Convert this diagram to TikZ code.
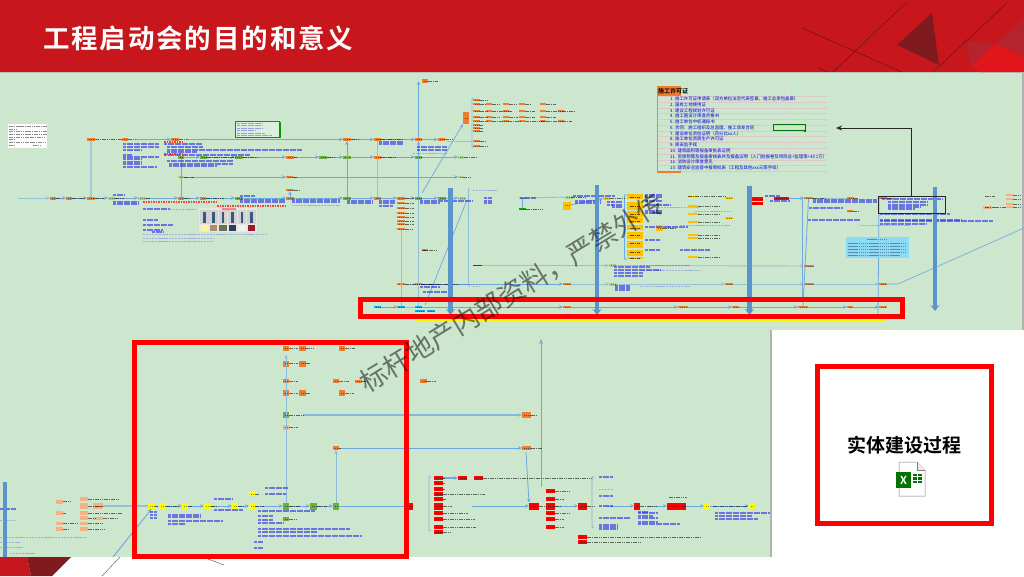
\documentclass[tikz,border=0pt]{standalone}
\usepackage{fontspec}
\usetikzlibrary{arrows.meta,decorations.pathreplacing}
\setmainfont{Noto Sans CJK SC}
\newfontfamily\cjk{Noto Sans CJK SC}
\newfontfamily\cjktitle[LetterSpace=7]{Noto Sans CJK SC Bold}
\newfontfamily\cjkbold{Noto Sans CJK SC Bold}
\definecolor{hdr}{HTML}{C8161D}
\definecolor{hdrdark}{HTML}{7F1A1E}
\definecolor{hdrmid}{HTML}{B5232E}
\definecolor{hdrbright}{HTML}{E0161A}
\definecolor{paper}{HTML}{CDE7CF}
\definecolor{org}{HTML}{ED7D31}
\definecolor{sal}{HTML}{F4B183}
\definecolor{grn}{HTML}{70AD47}
\definecolor{lgr}{HTML}{A9D18E}
\definecolor{yel}{HTML}{FFFF00}
\definecolor{amb}{HTML}{FFC000}
\definecolor{cya}{HTML}{00B0F0}
\definecolor{lnk}{HTML}{6FA8DC}
\definecolor{barblue}{HTML}{5B93CC}
\definecolor{txtblue}{HTML}{2A2AF0}
\tikzset{
  tagbox/.style={rectangle,inner sep=0pt,outer sep=0pt,draw=none},
  conn/.style={draw=lnk,line width=0.8pt,-{Stealth[length=4pt,width=3.5pt]}},
  pale/.style={draw=lnk!60!paper,line width=0.9pt},
  paleconn/.style={pale,-{Stealth[length=4pt,width=3.5pt]}},
  bluetext/.style={draw=txtblue,line width=1.15pt,opacity=.6,dash pattern=on 3pt off .5pt},
  faint/.style={draw=txtblue,line width=.8pt,opacity=.28,dash pattern=on 2.2pt off .7pt},
  darktext/.style={draw=black,line width=1pt,opacity=.55,dash pattern=on 1.6pt off .7pt},
  redtext/.style={draw=red,line width=1.1pt,opacity=.7,dash pattern=on 1.6pt off .9pt},
  bigbar/.style={draw=barblue,line width=4.6pt,-{Stealth[length=6pt,width=9pt]}},
  redframe/.style={draw=red,line width=4.8pt},
  listline/.style={inner sep=0pt,anchor=west,text=blue!85!black,font=\cjk\fontsize{4.4}{6}\selectfont},
}
\newcommand{\tg}[6]{\node[tagbox,fill=#6,minimum width=(#3-#2)*1pt,minimum height=#5 pt] (#1) at ({(#2+#3)/2},#4) {};\draw[draw=black,line width=.8pt,opacity=.45,dash pattern=on 1.4pt off .7pt] ({#2+1.5},#4) -- ({#3-1},#4);}
\begin{document}
\begin{tikzpicture}[x=1pt,y=-1pt]
\useasboundingbox (0,0) rectangle (1024,576);
\fill[white] (0,0) rectangle (1024,576);
% ---- panels
\fill[paper] (0,72) rectangle (1024,330);
\fill[paper] (0,330) rectangle (771,557);
\fill[gray!60] (770,330) rectangle (771.5,557);
\fill[gray!60] (1022,72) rectangle (1024,330);
% ---- header
\fill[hdr] (0,0) rectangle (1024,72);
\fill[gray!50] (0,72) rectangle (1024,72.8);
\fill[hdrdark] (932,13) -- (897,45) -- (939,65) -- cycle;
\fill[hdrmid] (967,42) -- (995,43) -- (970,67) -- cycle;
\fill[hdrmid] (995,43) -- (1024,20) -- (1024,57) -- cycle;
\fill[hdrbright] (995,44) -- (1024,57) -- (1024,72) -- (980,72) -- (970,67) -- cycle;
\draw[hdrdark!80!black,line width=.5pt] (802,28) -- (902,72) (907,2) -- (833,72) (1007,3) -- (933,72) (818,68) -- (828,72);
\node[anchor=west,inner sep=0pt,text=white,font=\cjktitle\fontsize{26.5}{30}\selectfont] (title) at (43,38) {工程启动会的目的和意义};
% bottom-left decoration
\fill[hdr] (0,557) -- (27,557) -- (31,576) -- (0,576) -- cycle;
\fill[hdrdark] (27,557) -- (71,557) -- (52,576) -- (31,576) -- cycle;
\draw[black!70,line width=.4pt] (120,557) -- (102,576) (208,559) -- (224,565);
% ---- top block tags
\tg{a1}{87}{95}{139.5}{3}{org}\tg{a2}{122}{128}{139.5}{3}{org}\tg{a3}{171}{179}{139.5}{3}{org}
\tg{a4}{343}{351}{139.5}{3}{org}\tg{a5}{374}{381}{139.5}{3}{org}\tg{a6}{415}{422}{139.5}{3}{org}\tg{a7}{438}{445}{139.5}{3}{org}
\tg{b1}{178}{184}{157}{3}{grn}\tg{b2}{200}{207}{157}{3}{grn}\tg{b3}{235}{243}{157}{3}{grn}\tg{b4}{286}{294}{157}{3}{org}\tg{b5}{319}{327}{157}{3}{grn}
\tg{b6}{343}{351}{157}{3}{grn}\tg{b7}{374}{381}{157}{3}{org}\tg{b8}{415}{422}{157}{3}{grn}\tg{b9}{458}{464}{157}{3}{lgr}
\tg{c1}{178}{184}{177}{2}{lgr}\tg{c2}{286}{293}{177}{2}{org}\tg{c3}{458}{463}{177}{2}{lgr}
\tg{d0}{50}{56}{198}{3}{org}\tg{d1}{66}{72}{198}{3}{org}\tg{d2}{87}{95}{198}{3}{org}\tg{d3}{108}{115}{198}{3}{lgr}\tg{d4}{138}{147}{198}{3}{lgr}
\tg{d5}{178}{184}{198}{3}{org}\tg{d6}{200}{206}{198}{3}{org}\tg{d7}{235}{243}{198}{3}{grn}\tg{d8}{286}{294}{198}{3}{org}\tg{d8u}{286}{294}{190}{2.4}{org}
\tg{d9}{343}{351}{198}{3}{grn}\tg{d10}{374}{381}{198}{3}{org}\tg{d11}{397}{405}{198}{3}{org}\tg{d12}{415}{422}{198}{3}{grn}\tg{d13}{438}{446}{198}{3}{grn}\tg{d14}{458}{466}{198}{3}{lgr}
\tg{s1}{397}{405}{203}{2.4}{org}\tg{s2}{397}{405}{208}{2.4}{org}\tg{s3}{397}{405}{213}{2.4}{org}\tg{s4}{397}{405}{217}{2.4}{org}\tg{s5}{397}{405}{221}{2.4}{org}\tg{s6}{397}{405}{224}{2.4}{org}\tg{s7}{397}{405}{229}{2.4}{org}
\tg{q1}{422}{428}{81}{3.5}{org}\tg{q2}{422}{428}{250}{1.5}{org}
% tree at top right
\tg{tree}{463}{469}{118}{12}{org}
\foreach \n/\y in {k1/100,k2/104,k3/111,k4/117,k5/121,k6/125,k7/128,k8/131,k9/141,k10/146}{\tg{\n}{473}{480}{\y}{2.4}{org}}
\foreach \cola/\colb in {486/492,503/509,519/525,540/546}{\foreach \y in {104,111,117,121}{\fill[org] (\cola,\y-1.2) rectangle (\colb,\y+1.2);}}
\fill[org] (558,109.8) rectangle (564,112.2) (558,119.8) rectangle (564,122.2);
% row E, F, G
\tg{e1}{397}{405}{284}{2.4}{org}\tg{e2}{415}{422}{284}{2.4}{org}\tg{e3}{563}{571}{284}{2.4}{org}\tg{e4}{609}{617}{284}{3}{lgr}\tg{e5}{725}{733}{284}{2}{org}\tg{e6}{804}{814}{284}{2}{org}\tg{e7}{879}{887}{284}{2}{org}
\node[tagbox,fill=txtblue,minimum width=9pt,minimum height=1pt] (f0) at (477.5,265.5) {};
\tg{f1}{609}{616}{265.5}{3}{lgr}\tg{f2}{804}{814}{266}{2}{org}
\tg{g1}{374}{381}{307}{2.4}{cya}\tg{g2}{397}{405}{307}{2.4}{cya}\tg{g3}{415}{422}{307}{2.4}{cya}\tg{g4}{415}{425}{311}{2}{cya}\tg{g5}{427}{435}{311}{2}{cya}
\tg{g6}{563}{571}{307}{2}{org}\tg{g7}{678}{688}{307}{1.6}{org}\tg{g8}{732}{739}{307}{1.6}{org}\tg{g9}{798}{808}{307}{1.6}{org}\tg{g10}{847}{853}{307}{1.6}{org}\tg{g11}{879}{887}{307}{1.6}{org}
\fill[yel] (416,319) rectangle (886,321.2);
% mid tags
\tg{m1}{563}{571}{205.5}{8}{amb}\tg{m2}{565}{573}{197}{3}{lgr}\tg{m3}{519}{526}{209}{2.5}{green!70!black}\tg{m4}{519}{526}{198}{2.5}{lgr}\tg{m5}{603}{610}{198}{3}{amb}
\foreach \n/\ya/\yb in {u1/194/199,u2/202/210,u3/211/217,u4/218/223,u5/225/230,u6/232/239,u7/241/248,u8/250/256,u9/257/259}{\fill[amb] (627,\ya) rectangle (643,\yb);}
\tg{m6}{656}{663}{228}{6}{amb}
\foreach \y in {197,206,214,221,228,235,243,252,258}{\draw[darktext,opacity=.6] (630,\y) -- (640,\y);}
\draw[lnk,line width=.9pt] (626,194) .. controls (624,194) and (624.5,196) .. (624.5,199) -- (624.5,255) .. controls (624.5,258) and (624,260) .. (626,260);
\tg{n1}{725}{733}{198}{2.4}{amb}\tg{n2}{725}{733}{218}{2.4}{amb}
\foreach \y in {196.5,206,214,222,235,238,257}{\fill[amb] (688,\y-.8) rectangle (698,\y+.8);}
\tg{v1}{752}{763}{199}{4}{red}\tg{v2}{752}{763}{203.5}{2.4}{red}\tg{v3}{774}{789}{198}{3}{red}
\tg{w1}{804}{813}{198}{2.4}{org}\tg{w2}{847}{854}{198}{2.4}{org}\tg{w3}{847}{853}{211}{2.4}{org}\tg{w4}{879}{887}{198}{2.4}{org}
\foreach \y in {195,199,204,207}{\fill[sal] (1006,\y-1.4) rectangle (1013,\y+1.4);}
\fill[sal] (983,205.5) rectangle (992,208.5);
% ---- bottom block tags
\foreach \x/\xb/\y/\h in {56/63/501.7/4,80/88/499/3.4,80/88/506/6,93/103/506/6,56/63/513/3.4,80/88/513/3.4,80/88/518/3.4,93/103/518/3,56/63/523.7/3.4,80/88/523.7/3.4,56/63/529/3.4,80/88/529/3.4}{\fill[sal] (\x,\y-\h/2) rectangle (\xb,\y+\h/2);}
\tg{src}{93}{103}{506}{6}{sal}
\tg{y1}{148}{155}{506}{6}{yel}\tg{y2}{159}{166}{506}{6}{yel}\tg{y3}{182}{188}{506}{6}{yel}\tg{y4}{204}{211}{506}{6}{yel}\tg{y5}{232}{238}{506}{6}{yel}\tg{y6}{249}{255}{506}{6}{yel}\tg{y7}{249}{255}{494}{4.5}{yel}
\tg{h1}{283}{289}{506}{7}{grn}\tg{h2}{310}{317}{506}{7}{grn}\tg{h3}{333}{339}{506}{7}{grn}\tg{r1}{408}{413}{506}{7}{red}\tg{h4}{283}{289}{519}{4}{grn}
\tg{o1}{283}{289}{348}{5}{org}\tg{o2}{283}{289}{363.5}{6}{org}\tg{o3}{283}{289}{381}{4}{org}\tg{o4}{283}{289}{393}{6}{org}\tg{hg}{283}{289}{415}{6}{grn}\tg{o6}{283}{289}{427.5}{5}{sal}
\tg{p1}{299}{306}{348}{5}{org}\tg{p2}{299}{306}{363.5}{6}{org}\tg{p3}{299}{306}{393}{6}{org}
\tg{p4}{339}{345}{348}{5}{org}\tg{p5}{333}{339}{381}{4}{org}\tg{p6}{355}{362}{381}{3}{org}\tg{p7}{339}{345}{393}{6}{org}
\tg{o9}{333}{339}{448}{4.5}{org}\tg{tgta}{522}{531}{415}{6}{org}\tg{tgtb}{522}{531}{448}{4.5}{org}\tg{o10}{420}{427}{381}{3.5}{org}
\foreach \n/\y in {x1/478,x2/483,x3/489,x4/494,x5/499,x7/513,x8/519,x9/527,x10/532}{\tg{\n}{434}{443}{\y}{4}{red}}
\tg{x6}{434}{443}{506}{7}{red}
\tg{z1}{458}{467}{478}{4}{red}\tg{z2}{474}{483}{478}{4}{red}
\tg{ra}{529}{539}{506}{7}{red}\tg{rb}{546}{555}{506}{7}{red}
\foreach \n/\y in {ry1/491,ry2/499,ry3/513,ry4/519,ry5/527}{\tg{\n}{546}{555}{\y}{4}{red}}
\tg{rc}{578}{587}{506}{7}{red}\tg{rd}{634}{640}{506}{7}{red}\tg{re}{667}{686}{506}{7}{red}
\tg{rf}{578}{587}{537}{4.5}{red}\tg{rg}{578}{587}{542}{4.5}{red}
\tg{y8}{704}{710}{506}{6}{yel}\tg{y9}{749}{755}{506}{6}{yel}
% ---- connectors: top
\coordinate (a1x) at (136,139.5);\coordinate (a3x) at (188,139.5);
\draw[conn] (a1x) -- (a3);\draw[conn] (a3x) -- (a4);\draw[conn] (a4) -- (a5);\draw[conn] (a5) -- (a6);\draw[conn] (a6) -- (a7);
\foreach \p/\q in {b1/b2,b2/b3,b3/b4,b4/b5,b5/b6,b6/b7,b7/b8,b8/b9,c1/c2,c2/c3,d0/d1,d1/d2,d2/d3,d3/d4,d4/d5,d5/d6,d6/d7,d7/d8,d8/d9,d9/d10,d10/d11,d11/d12,d12/d13,d13/d14}{\draw[conn] (\p) -- (\q);}
\coordinate (dl) at (18,198);\draw[paleconn] (dl) -- (d0);
\draw[pale,line width=1.5pt,lnk!45!paper] (d2.north) -- (a1.south);
\draw[draw=lnk,line width=.9pt] (d5.north) -- (b1.south);
\draw[conn] (d8) -- (d8u);
\draw[conn] (d9.north) -- (a4.south);
\draw[pale] (d10.north) -- (a5.south);
\draw[conn] (d12.north) -- (a6.south);
\coordinate (qa) at (418.5,81);\draw[conn] (a6.north) -- (qa);
\draw[pale] (s7.south) -- (g2.north);
\draw[pale] (d12.south) -- (g3.north);
\coordinate (dg1) at (422,193);\draw[draw=lnk,line width=.7pt,-{Stealth[length=4pt,width=3pt]}] (dg1) -- (tree.south west);
\coordinate (dg2) at (425,305);\coordinate (dg3) at (467,200);\draw[draw=lnk,line width=.7pt] (dg2) -- (dg3);
\draw[lnk!70!paper,line width=.9pt] (473,98) .. controls (471.5,98) and (472,100) .. (472,102) -- (472,144) .. controls (472,146) and (471.5,148) .. (473,148);
\coordinate (tr0) at (447,141.5);\coordinate (tr1) at (472,141.5);\draw[pale] (tr0) -- (tr1);
\draw[draw=lnk!70!paper,line width=.9pt] (469.5,188) .. controls (468,188) and (468.5,190) .. (468.5,192) -- (468.5,280) .. controls (468.5,283) and (468,286) .. (470,287);
% rows E/F/G
\draw[pale] (e1) -- (e2);\draw[conn] (e2) -- (e3);\draw[paleconn] (e3) -- (e4);\draw[paleconn] (e4) -- (e5);\draw[paleconn] (e5) -- (e6);\draw[paleconn] (e6) -- (e7);
\coordinate (eout) at (1024,228);\coordinate (eo2) at (898,284);\draw[draw=lnk,line width=.6pt] (e7) -- (eo2) -- (eout);
\draw[paleconn] (f0) -- (f1);\draw[paleconn] (f1) -- (f2);
\draw[draw=org,line width=.8pt,-{Stealth[length=3pt,width=3pt]}] (g1) -- (g2);
\draw[pale] (g2) -- (g3);
\foreach \p/\q in {g3/g6,g6/g7,g7/g8,g8/g9,g9/g10,g10/g11}{\draw[conn] (\p) -- (\q);}
\draw[draw=lnk,line width=.8pt] (w1.south) -- (g9.north);
\draw[draw=lnk,line width=.8pt] (w4.west) -- (878,315);
\draw[pale] (m2) -- (m4);
\draw[draw=lnk,line width=.8pt] (m4.south) -- (m3.north);
\draw[conn] (m1) -- (m5);
\draw[pale] (w1) -- (w2);
\draw[conn] (v3) -- (w1);
\coordinate (bigend) at (836,128);
% ---- connectors: bottom
\draw[pale,line width=1.2pt] (src) -- (y1);
\foreach \p/\q in {y2/y3,y3/y4,y4/y5,y5/y6,y6/h1,h1/h2,h2/h3,h3/r1,rb/rc,y8/y9}{\draw[conn] (\p) -- (\q);}
\draw[pale] (y1) -- (y2);
\draw[draw=lnk!70!paper,line width=1pt,-{Stealth[length=4pt,width=3.5pt]}] (h1.north) -- (286,355);
\draw[draw=lnk!70!paper,line width=1pt,-{Stealth[length=4pt,width=3.5pt]}] (h3.north) -- (o9.south);
\coordinate (hgx) at (303,415);\draw[draw=lnk!75!paper,line width=1.4pt,-{Stealth[length=4pt,width=3.5pt]}] (hgx) -- (tgta);
\draw[conn] (o9) -- (tgtb);
\coordinate (dgb) at (526,452);\draw[conn] (dgb) -- (ra.north west);
\coordinate (vtop) at (541,339);\coordinate (vbot) at (541,487);\draw[draw=lnk,line width=.9pt,-{Stealth[length=5pt,width=4pt]}] (vbot) -- (vtop);
\coordinate (dgc) at (113,557);\draw[draw=lnk,line width=.9pt,-{Stealth[length=4pt,width=4pt]}] (dgc) -- (y1.south);
\draw[draw=lnk!80!paper,line width=.9pt] (430.5,476) .. controls (428.5,476) and (429,478) .. (429,480) -- (429,527) .. controls (429,530) and (428.5,531) .. (430.5,531);
\draw[draw=lnk!80!paper,line width=.9pt] (593.5,476) .. controls (592,476) and (592,478) .. (592,481) -- (592,524) .. controls (592,526) and (592,528) .. (593.5,528);
\draw[conn,line width=1.2pt] (x1) -- (z1);
\coordinate (xout) at (472,506);\draw[conn] (xout) -- (ra);
\coordinate (rcout) at (607,506);\draw[conn] (rcout) -- (rd);
\coordinate (rdout) at (648,506);\draw[conn] (rdout) -- (re);\draw[conn] (re) -- (y8);
% ---- micro text as streaks
\foreach \a/\b/\y in {123/159/144,123/159/147,123/142/150,123/132/155,123/159/157,123/141/159,123/141/162,123/141/164,123/157/167,164/202/144,167/203/147,167/302/150,167/197/152,164/250/155,167/233/161,169/233/164,169/217/166,113/124/195,113/138/202,113/138/204,143/170/209,143/158/220,143/173/225,143/163/230,152/163/232,240/255/196,240/285/200,240/285/202,292/340/200,292/340/202,347/373/201,347/373/203,379/403/142,379/403/144,379/395/201,379/395/203,379/393/206,417/447/147,417/447/150,420/440/201,420/440/203,440/473/201,484/492/198,484/492/201,484/492/203,607/613/202,607/613/205,420/440/287,423/450/292,614/650/267,614/660/270,614/643/273,614/643/276,615/630/286,615/630/288,615/630/290,813/877/200,813/877/202,809/843/208,808/860/220,882/943/199,888/927/202,888/927/205,888/920/207,888/915/209,880/950/214,880/962/220,880/993/221,880/927/224,645/662/195,645/662/197,645/662/201,645/670/205,645/662/211,645/662/213,645/670/227,668/688/227,645/660/240,645/660/250,680/710/250,765/780/196,770/790/201,520/536/198,573/615/196,575/600/201,575/600/203,612/622/202,612/622/205,612/622/207,0/16/509,150/157/512,150/157/515,150/157/518,168/200/515,168/200/517,168/223/521,168/185/524,214/232/499,214/243/510,265/288/488,265/286/494,258/315/511,258/273/516,258/273/520,258/283/523,258/350/529,258/317/532,258/362/536,254/263/542,254/263/548,599/613/477,599/613/496,599/613/506,599/630/518,599/618/525,599/618/527,599/618/529,638/648/512,638/658/513,638/653/516,638/658/518,638/658/522,638/680/524,715/770/513,715/752/516,715/758/519}{\draw[bluetext] (\a,\y) -- (\b,\y);}
\foreach \a/\b/\y in {143/267/234,143/213/238,143/213/241,170/197/209,292/340/205,413/447/153,473/497/190,473/480/286,428/470/284,640/690/286,655/700/207,695/730/211,680/730/225,640/690/265,640/700/270,860/910/225,599/613/489,0/15/520,0/87/537,0/20/542,0/23/547,10/35/553}{\draw[faint] (\a,\y) -- (\b,\y);}
\foreach \a/\b/\y in {95/122/139.5,128/136/139.5,179/188/139.5,351/358/139.5,381/403/139.5,445/452/139.5,207/235/157,243/258/157,294/297/157,327/335/157,381/395/157,464/476/157,184/194/177,293/297/177,463/470/177,56/60/198,72/85/198,95/104/198,115/124/198,147/150/198,184/190/198,206/224/198,294/300/190,405/414/198,405/414/203,405/414/208,405/414/213,405/414/217,405/414/221,405/414/224,405/413/229,428/438/81,422/436/250,405/458/284,422/440/284,480/488/100,480/485/104,480/488/111,480/488/117,480/488/121,492/500/104,509/517/104,525/530/104,546/556/104,492/512/111,525/535/111,546/575/111,492/500/117,509/518/117,525/535/117,546/556/117,492/520/121,525/545/121,546/572/121,480/483/125,480/483/128,480/483/131,480/485/141,480/487/146,526/543/209,663/676/228,571/585/197,610/625/198,688/725/196.5,698/720/206,698/720/214,698/720/222,698/720/235,698/720/238,698/720/257,985/995/196,985/995/207,995/1006/207,1013/1020/195,1013/1020/199,1013/1020/204,1013/1020/207,854/858/198,853/858/211,887/893/198,813/826/198,63/70/501.7,88/118/499,88/103/506,63/66/513,88/122/513,103/118/518,88/95/518,63/78/523.7,88/103/523.7,63/68/529,88/105/529,155/158/506,166/178/506,188/192/506,211/216/506,238/243/506,255/264/506,255/259/494,289/300/506,317/327/506,289/297/519,289/298/348,306/313/348,345/355/348,289/298/363.5,306/310/363.5,289/298/381,339/349/381,362/367/381,289/298/393,306/310/393,345/354/393,289/303/415,289/298/427.5,339/341/448,427/436/381,531/537/415,531/542/448,443/445/478,443/445/483,443/445/489,443/485/494,443/446/499,443/452/506,443/468/513,443/475/519,443/476/527,443/450/532,483/592/478,555/571/491,555/564/499,555/571/513,555/564/519,555/564/527,555/560/506,539/546/506,587/594/506,587/700/537,587/640/542,640/657/506,669/687/497,713/747/506}{\draw[darktext] (\a,\y) -- (\b,\y);}
\foreach \a/\b/\y in {164/184/142,164/184/154,143/217/202,217/285/206}{\draw[redtext] (\a,\y) -- (\b,\y);}
% white box
\fill[white,opacity=.95] (8,124) rectangle (47,148);
\foreach \a/\b/\y in {9/20/126,20/47/126,9/17/129,9/27/131,27/47/131,9/27/134,27/47/134,9/30/137,30/46/137,9/14/139,9/31/142,31/46/142,9/14/145,33/40/145}{\draw[darktext,opacity=.45,line width=1pt] (\a,\y) -- (\b,\y);}
% green note box
\fill[paper!70!white] (235.5,121.5) rectangle (279,137.5);
\draw[draw=green!60!black,line width=1.1pt] (235.5,137.5) -- (280,137.5) -- (280,121.5);
\draw[draw=green!60!black,line width=.7pt] (235.5,137.5) -- (235.5,121.5) -- (280,121.5);
\foreach \b/\y in {262/123,262/125.5,262/128,256/130.5,265/133,272/135}{\draw[bluetext,opacity=.4,line width=.8pt] (237,\y) -- (\b,\y);}
% cyan box
\fill[cyan!45!white] (846,237) rectangle (909,258);
\foreach \a/\b/\y in {867/888/239,848/906/243,848/906/246,848/906/249,848/906/252,848/900/255}{\draw[draw=black,opacity=.35,line width=.9pt,dash pattern=on 1.5pt off .6pt] (\a,\y) -- (\b,\y);}
% swatch picture
\fill[yellow!18!gray!25] (199,208) rectangle (257,232);
\fill[red!50!white] (222,208) rectangle (236,210.5);
\foreach \i/\c in {0/FFF3A0,1/A89070,2/6B7355,3/2A3B75,4/F0F0F0,5/A01830}{
  \definecolor{sw}{HTML}{\c}
  \fill[gray!35!white] ({200+\i*9.45},210) rectangle ({208.5+\i*9.45},224);
  \fill[barblue!60!black] ({203+\i*9.45},212) rectangle ({205.5+\i*9.45},222.5);
  \fill[sw] ({200.5+\i*9.45},225) rectangle ({208+\i*9.45},231);
}
% ---- permit table
\begin{scope}
\clip (657,84) rectangle (827,174);
\foreach \y in {96,102,108,113.5,119,125,131,136.5,142,148,154,160,165.5,171}{\draw[red!25!gray!35,line width=.5pt] (657,\y) -- (827,\y);}
\draw[gray!30,line width=.4pt] (784,86) -- (784,172) (805,86) -- (805,172);
\draw[lnk,line width=.6pt] (657,96) -- (657,171);
\fill[org] (657,86) rectangle (681,96);
\fill[org] (657,171) rectangle (681,173);
\node[inner sep=0pt,anchor=west,font=\cjkbold\fontsize{6}{7}\selectfont] (pt) at (658,91) {施工许可证};
\node[listline] (t1) at (670,99) {1. 施工许可证申请表（双方单位法定代表签章，施工总承包盖章）};
\node[listline] (t2) at (670,104.7) {2. 国有土地使用证};
\node[listline] (t3) at (670,110.4) {3. 建设工程规划许可证};
\node[listline] (t4) at (670,116.2) {4. 施工图设计审查合格书};
\node[listline] (t5) at (670,122) {5. 施工单位中标通知书};
\node[listline] (t6) at (670,127.7) {6. 合同：施工组织及总监理、施工承发合同};
\node[listline] (t7) at (670,133.4) {7. 建设单位资信证明（百分比xx人）};
\node[listline] (t8) at (670,139.2) {8. 施工单位资质生产许可证};
\node[listline] (t9) at (670,145) {9. 质安监手续};
\node[listline] (t10) at (670,150.7) {10. 建筑面积等报备审批表证明};
\node[listline] (t11) at (670,156.4) {11. 资质预算及报备审核表并及报备证明（入门前报卷及项目总+监理等+30 1万）};
\node[listline] (t12) at (670,162.2) {12. 消防设计审查意见};
\node[listline] (t13) at (670,168) {13. 建筑安全监督中报审批表（工程及其他xxx元等手续）};
\end{scope}
\draw[draw=green!45!black,line width=.8pt] (773.5,124.5) rectangle (805,130.8);
\fill[green!45!black] (804,129.8) rectangle (806,131.8);
% ---- big down bars
\coordinate (t450) at (450.5,188);\coordinate (b450) at (450.5,315);
\coordinate (t597) at (597,185);\coordinate (b597) at (597,315);
\coordinate (t749) at (749.5,186);\coordinate (b749) at (749.5,315);
\coordinate (t935) at (935,187);\coordinate (b935) at (935,311);
\coordinate (tl) at (5,482);\coordinate (bl) at (5,557);
\draw[bigbar] (t450) -- (b450);
\draw[bigbar] (t597) -- (b597);
\draw[bigbar] (t749) -- (b749);
\draw[bigbar] (t935) -- (b935);
\draw[draw=barblue,line width=3.6pt] (tl) -- (bl);
\draw[draw=lnk,line width=.9pt] (802.5,198) -- (802.5,298);
% ---- black callout
\node[draw=black!85,line width=1pt,inner sep=0pt,minimum width=67pt,minimum height=17pt] (callout) at (911.5,204.5) {};
\coordinate (corner) at (callout.north |- bigend);
\draw[draw=black!85,line width=.8pt,-{Stealth[length=6pt,width=5pt]}] (callout.north) -- (corner) -- (bigend);
% ---- red frames
\draw[redframe] (360.5,299.5) rectangle (902.5,316.5);
\draw[redframe] (134.5,342.5) rectangle (406.5,556.5);
\draw[redframe] (817.4,366.4) rectangle (991.6,523.6);
% ---- caption + excel icon
\node[inner sep=0pt,font=\cjkbold\fontsize{19}{22}\selectfont] (cap) at (904.5,445) {实体建设过程};
\draw[draw=gray,fill=white,line width=.5pt] (899,462) -- (917,462) -- (925,470) -- (925,496) -- (899,496) -- cycle;
\draw[draw=gray,line width=.5pt,fill=gray!15] (917,462) -- (917,470) -- (925,470);
\fill[green!45!black] (896,472) rectangle (911,488);
\node[inner sep=0pt,text=white,font=\cjkbold\fontsize{11}{12}\selectfont] (xl) at (903.5,480) {X};
\foreach \i in {0,1,2}{\fill[green!45!black] (913,{474+\i*3.4}) rectangle (917,{476.4+\i*3.4});\fill[green!45!black] (918,{474+\i*3.4}) rectangle (922,{476.4+\i*3.4});}
% ---- watermark
\node[rotate=31.5,inner sep=0pt,text=black,opacity=.5,font=\cjk\fontsize{27}{30}\selectfont] (wm) at (512,293) {标杆地产内部资料，严禁外传};
\end{tikzpicture}
\end{document}
